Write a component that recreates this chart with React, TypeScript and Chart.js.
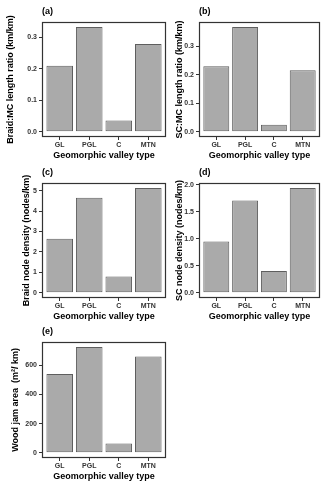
import React, { useEffect, useRef } from "react";
import { Chart, registerables } from "chart.js";

Chart.register(...registerables);
Chart.defaults.font.family = "'Liberation Sans', Arial, sans-serif";

const categories = ["GL", "PGL", "C", "MTN"];

const braidRatio = [0.21, 0.333, 0.036, 0.279];
const scRatio = [0.23, 0.367, 0.025, 0.216];
const braidNodeDensity = [2.64, 4.65, 0.8, 5.13];
const scNodeDensity = [0.95, 1.71, 0.405, 1.94];
const woodJamArea = [541, 726, 64, 662];

const ticksRatio = [0, 0.1, 0.2, 0.3];
const labelsRatio = ["0.0", "0.1", "0.2", "0.3"];
const ticksBraidNode = [0, 1, 2, 3, 4, 5];
const labelsBraidNode = ["0", "1", "2", "3", "4", "5"];
const ticksScNode = [0, 0.5, 1, 1.5, 2];
const labelsScNode = ["0.0", "0.5", "1.0", "1.5", "2.0"];
const ticksWood = [0, 200, 400, 600];
const labelsWood = ["0", "200", "400", "600"];

const xTitle = "Geomorphic valley type";

type PanelCfg = {
  tag: string;
  yTitle: string;
  values: number[];
  ticks: number[];
  labels: string[];
  left: number;
  top: number;
  w: number;
  h: number;
  yAxisW: number;
  yTitlePad: number;
  rightPad: number;
};

const panels: PanelCfg[] = [
  { tag: "(a)", yTitle: "Braid:MC length ratio (km/km)", values: braidRatio, ticks: ticksRatio, labels: labelsRatio, left: 0, top: 0, w: 170, h: 162, yAxisW: 42, yTitlePad: 5, rightPad: 4 },
  { tag: "(b)", yTitle: "SC:MC length ratio (km/km)", values: scRatio, ticks: ticksRatio, labels: labelsRatio, left: 170, top: 0, w: 151, h: 162, yAxisW: 29, yTitlePad: 4, rightPad: 1 },
  { tag: "(c)", yTitle: "Braid node density (nodes/km)", values: braidNodeDensity, ticks: ticksBraidNode, labels: labelsBraidNode, left: 0, top: 161, w: 170, h: 162, yAxisW: 42, yTitlePad: 21, rightPad: 4 },
  { tag: "(d)", yTitle: "SC node density (nodes/km)", values: scNodeDensity, ticks: ticksScNode, labels: labelsScNode, left: 170, top: 161, w: 151, h: 162, yAxisW: 29, yTitlePad: 4.5, rightPad: 1 },
  { tag: "(e)", yTitle: "Wood jam area  (m\u00B2/ km)", values: woodJamArea, ticks: ticksWood, labels: labelsWood, left: 0, top: 320, w: 170, h: 163, yAxisW: 42, yTitlePad: 10, rightPad: 4 },
];

const framePlugin = {
  id: "frame",
  afterDatasetsDraw(chart: any) {
    const { ctx, chartArea: a } = chart;
    ctx.save();
    ctx.strokeStyle = "#333333";
    ctx.lineWidth = 1.2;
    const l = Math.round(a.left) + 0.5;
    const t = Math.round(a.top) + 0.5;
    const r = Math.round(a.right) - 0.5;
    const b = Math.round(a.bottom) - 0.5;
    ctx.strokeRect(l, t, r - l, b - t);
    ctx.restore();
  },
};

function Panel({ cfg }: { cfg: PanelCfg }) {
  const ref = useRef<HTMLCanvasElement>(null);
  useEffect(() => {
    const maxV = Math.max(...cfg.values);
    const tickFont = { size: 7, weight: "bold" as const };
    const titleFont = { size: 9, weight: "bold" as const };
    const chart = new Chart(ref.current as HTMLCanvasElement, {
      type: "bar",
      data: {
        datasets: [
          {
            data: cfg.values.map((v, i) => ({ x: i + 1, y: v })),
            backgroundColor: "#aaaaaa",
            borderColor: "#5e5e5e",
            borderWidth: 1,
            borderSkipped: false,
            barPercentage: 0.9,
            categoryPercentage: 1.0,
          },
        ],
      },
      options: {
        responsive: false,
        animation: false,
        devicePixelRatio: 1,
        layout: { padding: { left: 0, right: cfg.rightPad, top: 0, bottom: 0 } },
        plugins: {
          legend: { display: false },
          tooltip: { enabled: false },
          title: {
            display: true,
            text: cfg.tag,
            align: "start",
            fullSize: false,
            color: "#000000",
            font: titleFont,
            padding: { top: 6, bottom: 5 },
          },
        },
        scales: {
          x: {
            type: "linear",
            offset: false,
            min: 0.4,
            max: 4.6,
            afterBuildTicks: (s: any) => {
              s.ticks = categories.map((_, i) => ({ value: i + 1 }));
            },
            afterFit: (s: any) => {
              s.height = 25;
            },
            ticks: {
              callback: (_v: any, i: number) => categories[i],
              font: tickFont,
              color: "#333333",
              padding: 1,
              maxRotation: 0,
              autoSkip: false,
            },
            grid: {
              display: true,
              offset: false,
              drawOnChartArea: false,
              drawTicks: true,
              tickLength: 3,
              color: "#333333",
              lineWidth: 1,
            },
            border: { display: false },
            title: {
              display: true,
              text: xTitle,
              color: "#000000",
              font: titleFont,
              padding: { top: 0, bottom: 1 },
            },
          },
          y: {
            type: "linear",
            min: -maxV * 0.05,
            max: maxV * 1.05,
            afterBuildTicks: (s: any) => {
              s.ticks = cfg.ticks.map((v) => ({ value: v }));
            },
            afterFit: (s: any) => {
              s.width = cfg.yAxisW;
            },
            ticks: {
              callback: (_v: any, i: number) => cfg.labels[i],
              font: tickFont,
              color: "#333333",
              padding: 2,
              autoSkip: false,
            },
            grid: {
              display: true,
              drawOnChartArea: false,
              drawTicks: true,
              tickLength: 3,
              color: "#333333",
              lineWidth: 1,
            },
            border: { display: false },
            title: {
              display: true,
              text: cfg.yTitle,
              color: "#000000",
              font: titleFont,
              padding: { top: cfg.yTitlePad, bottom: 0 },
            },
          },
        },
      },
      plugins: [framePlugin],
    });
    return () => chart.destroy();
  }, [cfg]);
  return (
    <canvas
      ref={ref}
      width={cfg.w}
      height={cfg.h}
      style={{ position: "absolute", left: cfg.left, top: cfg.top, width: cfg.w, height: cfg.h }}
    />
  );
}

export default function App() {
  return (
    <div style={{ position: "absolute", left: 0, top: 0, width: 321, height: 484, background: "#ffffff", overflow: "hidden" }}>
      {panels.map((p) => (
        <Panel key={p.tag} cfg={p} />
      ))}
    </div>
  );
}
